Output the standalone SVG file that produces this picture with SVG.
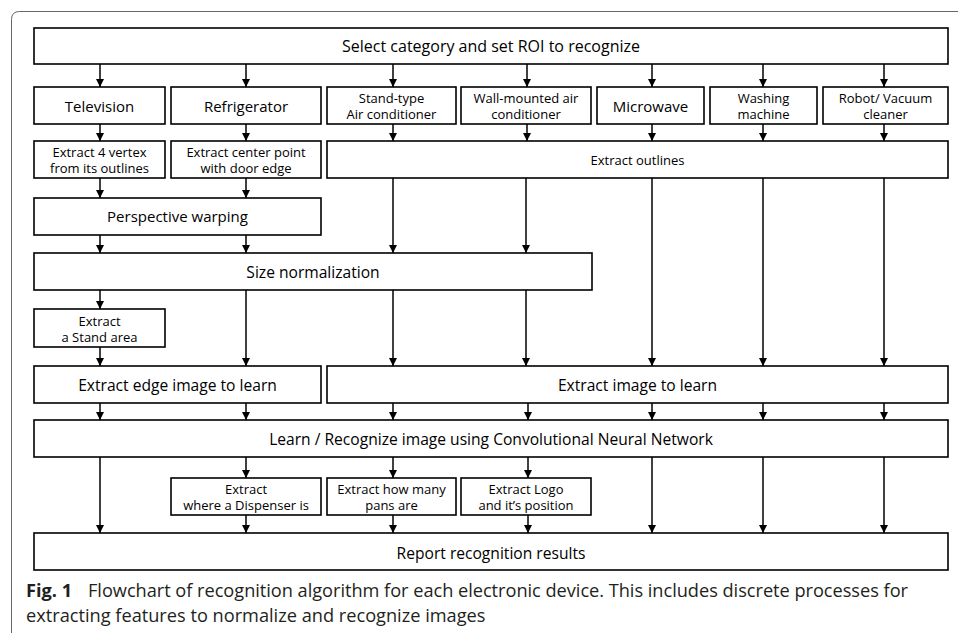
<svg xmlns="http://www.w3.org/2000/svg" width="958" height="633" viewBox="0 0 958 633">
<style>
.b{fill:#fff;stroke:#000;stroke-width:1.6}
.t{font-family:"Open Sans","Noto Sans",sans-serif;fill:#000;text-anchor:middle;dominant-baseline:central}
.L{font-size:16px}
.R{font-size:15px}
.M{font-size:15.6px}
.S{font-size:13px}
.c{stroke:#000;stroke-width:1.5;fill:none;marker-end:url(#a)}
.cap{font-family:"Open Sans","Noto Sans",sans-serif;font-size:18.2px;fill:#231f20}
</style>
<defs>
<marker id="a" markerUnits="userSpaceOnUse" markerWidth="9" markerHeight="8" refX="8" refY="4" orient="auto" viewBox="0 0 9 8">
<path d="M0,0 L8,4 L0,8 Z" fill="#000"/>
</marker>
</defs>
<rect width="958" height="633" fill="#fff"/>
<path d="M11.5,633 V19.5 Q11.5,11.5 19.5,11.5 H958" fill="none" stroke="#666" stroke-width="1"/>

<g id="connectors">
<line class="c" x1="100" y1="64" x2="100" y2="87"/>
<line class="c" x1="246" y1="64" x2="246" y2="87"/>
<line class="c" x1="393" y1="64" x2="393" y2="87"/>
<line class="c" x1="527" y1="64" x2="527" y2="87"/>
<line class="c" x1="652" y1="64" x2="652" y2="87"/>
<line class="c" x1="763" y1="64" x2="763" y2="87"/>
<line class="c" x1="884" y1="64" x2="884" y2="87"/>
<line class="c" x1="100" y1="124" x2="100" y2="141"/>
<line class="c" x1="246" y1="124" x2="246" y2="141"/>
<line class="c" x1="393" y1="124" x2="393" y2="141"/>
<line class="c" x1="527" y1="124" x2="527" y2="141"/>
<line class="c" x1="652" y1="124" x2="652" y2="141"/>
<line class="c" x1="763" y1="124" x2="763" y2="141"/>
<line class="c" x1="884" y1="124" x2="884" y2="141"/>
<line class="c" x1="100" y1="178" x2="100" y2="198"/>
<line class="c" x1="246" y1="178" x2="246" y2="198"/>
<line class="c" x1="393" y1="178" x2="393" y2="253"/>
<line class="c" x1="526" y1="178" x2="526" y2="253"/>
<line class="c" x1="652" y1="178" x2="652" y2="366"/>
<line class="c" x1="763" y1="178" x2="763" y2="366"/>
<line class="c" x1="884" y1="178" x2="884" y2="366"/>
<line class="c" x1="100" y1="235" x2="100" y2="253"/>
<line class="c" x1="246" y1="235" x2="246" y2="253"/>
<line class="c" x1="100" y1="290" x2="100" y2="309"/>
<line class="c" x1="246" y1="290" x2="246" y2="366"/>
<line class="c" x1="393" y1="290" x2="393" y2="366"/>
<line class="c" x1="526" y1="290" x2="526" y2="366"/>
<line class="c" x1="100" y1="347" x2="100" y2="366"/>
<line class="c" x1="100" y1="403" x2="100" y2="420"/>
<line class="c" x1="246" y1="403" x2="246" y2="420"/>
<line class="c" x1="393" y1="403" x2="393" y2="420"/>
<line class="c" x1="528" y1="403" x2="528" y2="420"/>
<line class="c" x1="652" y1="403" x2="652" y2="420"/>
<line class="c" x1="763" y1="403" x2="763" y2="420"/>
<line class="c" x1="884" y1="403" x2="884" y2="420"/>
<line class="c" x1="100" y1="457" x2="100" y2="533"/>
<line class="c" x1="652" y1="457" x2="652" y2="533"/>
<line class="c" x1="763" y1="457" x2="763" y2="533"/>
<line class="c" x1="884" y1="457" x2="884" y2="533"/>
<line class="c" x1="246" y1="457" x2="246" y2="478"/>
<line class="c" x1="393" y1="457" x2="393" y2="478"/>
<line class="c" x1="528" y1="457" x2="528" y2="478"/>
<line class="c" x1="246" y1="515" x2="246" y2="533"/>
<line class="c" x1="393" y1="515" x2="393" y2="533"/>
<line class="c" x1="528" y1="515" x2="528" y2="533"/>
</g>

<g id="n-select"><rect class="b" x="34" y="28" width="914" height="36"/><text class="t L" x="491" y="46">Select category and set ROI to recognize</text></g>

<g id="n-tv"><rect class="b" x="34" y="87" width="131" height="37"/><text class="t R" x="99.5" y="106">Television</text></g>
<g id="n-fridge"><rect class="b" x="171" y="87" width="150" height="37"/><text class="t R" x="246" y="106">Refrigerator</text></g>
<g id="n-stand"><rect class="b" x="327" y="87" width="129" height="37"/><text class="t S" x="391.5" y="97.5">Stand-type</text><text class="t S" x="391.5" y="114">Air conditioner</text></g>
<g id="n-wall"><rect class="b" x="461" y="87" width="130" height="37"/><text class="t S" x="526" y="97.5">Wall-mounted air</text><text class="t S" x="526" y="114">conditioner</text></g>
<g id="n-micro"><rect class="b" x="597" y="87" width="107" height="37"/><text class="t R" x="650.5" y="106">Microwave</text></g>
<g id="n-wash"><rect class="b" x="710" y="87" width="107" height="37"/><text class="t S" x="763.5" y="97.5">Washing</text><text class="t S" x="763.5" y="114">machine</text></g>
<g id="n-robot"><rect class="b" x="823" y="87" width="125" height="37"/><text class="t S" x="885.5" y="97.5">Robot/ Vacuum</text><text class="t S" x="885.5" y="114">cleaner</text></g>

<g id="n-vertex"><rect class="b" x="34" y="141" width="131" height="37"/><text class="t S" x="99.5" y="151.5">Extract 4 vertex</text><text class="t S" x="99.5" y="168">from its outlines</text></g>
<g id="n-center"><rect class="b" x="171" y="141" width="150" height="37"/><text class="t S" x="246" y="151.5">Extract center point</text><text class="t S" x="246" y="168">with door edge</text></g>
<g id="n-outlines"><rect class="b" x="327" y="141" width="621" height="37"/><text class="t S" x="637.5" y="160">Extract outlines</text></g>

<g id="n-persp"><rect class="b" x="34" y="198" width="287" height="37"/><text class="t R" x="177.5" y="216">Perspective warping</text></g>
<g id="n-size"><rect class="b" x="34" y="253" width="558" height="37"/><text class="t M" x="313" y="272">Size normalization</text></g>
<g id="n-standarea"><rect class="b" x="34" y="309" width="131" height="38"/><text class="t S" x="99.5" y="320.5">Extract</text><text class="t S" x="99.5" y="337">a Stand area</text></g>
<g id="n-edge"><rect class="b" x="34" y="366" width="287" height="37"/><text class="t M" x="177.5" y="385">Extract edge image to learn</text></g>
<g id="n-image"><rect class="b" x="327" y="366" width="621" height="37"/><text class="t M" x="637.5" y="385">Extract image to learn</text></g>
<g id="n-cnn"><rect class="b" x="34" y="420" width="914" height="37"/><text class="t M" x="491" y="439">Learn / Recognize image using Convolutional Neural Network</text></g>
<g id="n-disp"><rect class="b" x="171" y="478" width="150" height="37"/><text class="t S" x="246" y="488.5">Extract</text><text class="t S" x="246" y="505">where a Dispenser is</text></g>
<g id="n-pans"><rect class="b" x="327" y="478" width="129" height="37"/><text class="t S" x="391.5" y="488.5">Extract how many</text><text class="t S" x="391.5" y="505">pans are</text></g>
<g id="n-logo"><rect class="b" x="461" y="478" width="130" height="37"/><text class="t S" x="526" y="488.5">Extract Logo</text><text class="t S" x="526" y="505">and it’s position</text></g>
<g id="n-report"><rect class="b" x="34" y="533" width="914" height="37"/><text class="t M" x="491" y="553">Report recognition results</text></g>

<text class="cap" x="26" y="597" font-weight="bold">Fig. 1</text>
<text class="cap" x="88" y="597" textLength="820" lengthAdjust="spacing">Flowchart of recognition algorithm for each electronic device. This includes discrete processes for</text>
<text class="cap" x="26" y="622">extracting features to normalize and recognize images</text>
</svg>
